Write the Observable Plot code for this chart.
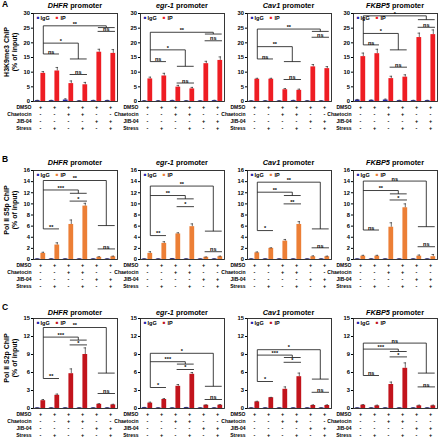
<!DOCTYPE html>
<html><head><meta charset="utf-8">
<script src="https://cdn.jsdelivr.net/npm/d3@7"></script>
<script src="https://cdn.jsdelivr.net/npm/@observablehq/plot@0.6"></script>
<style>
body{margin:0;background:#fff;}
#fig{position:relative;width:439px;height:440px;overflow:hidden;font-family:"Liberation Sans",Arial,sans-serif;font-weight:bold;color:#000;background:#fff;}
.abs{position:absolute;white-space:nowrap;}
</style></head><body><div id="fig"></div>
<script>
// ---------- data ----------
const promoters = ["DHFR", "egr-1", "Cav1", "FKBP5"];
const rowLetters = ["A", "B", "C"];
const yTitles = ["H3K9me3 ChIP", "Pol II S5p ChIP", "Pol II S2p ChIP"];
const yUnit = "(% of input)";
const legendLabels = ["IgG", "IP"];
const conditionNames = ["DMSO", "Chaetocin", "JIB-04", "Stress"];
const dmsoSigns = ["+", "+", "+", "+", "+", "+"];
const chaetocinSigns = ["-", "-", "+", "+", "-", "-"];
const jib04Signs = ["-", "-", "-", "-", "+", "+"];
const stressSigns = ["-", "+", "-", "+", "-", "+"];

const h3k9Ticks = [0, 5, 10, 15, 20, 25, 30];
const s5pTicks = [0, 2, 4, 6, 8, 10, 12, 14, 16];
const s2pTicks = [0, 3, 6, 9, 12, 15];

// H3K9me3 (row A)
const h3k9IP = [[9.6,10.4,6.1,5.7,16.8,16.4],[7.7,8.7,4.9,4.3,12.9,14.0],[7.6,7.6,4.0,3.8,11.8,11.2],[15.3,16.3,7.8,8.3,21.8,22.8]];
const h3k9IPErr = [[0.6,1.2,0.9,0.8,1.0,1.3],[0.6,0.9,0.6,0.5,0.8,1.2],[0.3,0.3,0.4,0.4,0.8,0.7],[1.2,1.5,0.8,0.8,1.5,1.6]];
const h3k9IgG = [[0.3,0.3,0.5,0.2,0.3,0.3],[0.2,0.2,0.3,0.2,0.2,0.3],[0.2,0.2,0.2,0.3,0.2,0.2],[0.5,0.4,0.5,0.3,0.3,0.3]];
const h3k9IgGErr = [[0.1,0.1,0.4,0.1,0.1,0.1],[0.1,0.1,0.1,0.1,0.1,0.1],[0.1,0.1,0.1,0.1,0.1,0.1],[0.2,0.1,0.3,0.1,0.1,0.1]];
// join brackets: [from, groupA, groupB, y, yTbar, label]; pair brackets: [a, b, y, label]
const h3k9Joins = [
  [[1,5,6,25.8,25.2,"**"],[1,3,4,19.9,14.5,"*"]],
  [[1,5,6,23.6,23.0,"**"],[1,3,4,17.6,12.0,"*"]],
  [[1,5,6,24.7,23.9,"**"],[1,3,4,18.7,13.6,"**"]],
  [[1,5,6,29.2,27.9,"*"],[1,3,4,23.2,17.6,"*"]]];
const h3k9Pairs = [
  [[1,2,16.2,"ns"],[5,6,23.9,"ns"],[3,4,9.2,"ns"]],
  [[1,2,13.6,"ns"],[5,6,20.7,"ns"],[3,4,6.3,"ns"]],
  [[1,2,14.5,"ns"],[5,6,21.9,"ns"],[3,4,7.5,"ns"]],
  [[1,2,19.3,"ns"],[5,6,25.3,"ns"],[3,4,11.7,"ns"]]];

// Pol II S5p (row B)
const s5pIP = [[1.1,2.6,6.3,9.6,0.4,0.5],[1.1,2.9,4.6,5.9,0.4,0.5],[1.2,2.0,3.3,6.3,0.5,0.5],[0.6,0.6,5.8,9.3,0.6,0.5]];
const s5pIPErr = [[0.2,0.4,0.8,0.5,0.1,0.1],[0.3,0.3,0.2,0.5,0.05,0.1],[0.15,0.1,0.3,0.5,0.15,0.1],[0.15,0.15,0.8,0.7,0.2,0.4]];
const s5pIgG = [[0.1,0.1,0.1,0.1,0.1,0.1],[0.1,0.1,0.15,0.1,0.1,0.1],[0.1,0.1,0.1,0.1,0.1,0.1],[0.1,0.1,0.1,0.1,0.1,0.1]];
const s5pIgGErr = [[0.03,0.03,0.03,0.03,0.03,0.03],[0.03,0.03,0.03,0.03,0.03,0.03],[0.03,0.03,0.03,0.03,0.03,0.03],[0.03,0.03,0.03,0.03,0.03,0.03]];
const s5pJoins = [
  [[1,5,6,14.2,6.1,"**"],[1,3,4,12.5,11.9,"***"]],
  [[1,5,6,13.2,5.1,"**"],[1,3,4,11.5,10.9,"**"]],
  [[1,5,6,13.9,5.5,"**"],[1,3,4,12.1,11.5,"**"]],
  [[1,5,6,14.1,5.9,"ns"],[1,3,4,12.4,11.8,"**"]]];
const s5pPairs = [
  [[3,4,10.5,"*"],[1,2,5.5,"**"],[5,6,1.9,"ns"]],
  [[3,4,9.5,"*"],[1,2,4.3,"**"],[5,6,1.4,"ns"]],
  [[3,4,10.0,"**"],[1,2,5.2,"*"],[5,6,2.1,"ns"]],
  [[3,4,10.7,"*"],[1,2,5.3,"ns"],[5,6,2.3,"ns"]]];

// Pol II S2p (row C)
const s2pIP = [[1.3,2.2,5.8,9.0,0.7,0.6],[0.9,1.5,3.7,5.7,0.55,0.55],[1.1,1.8,3.2,5.3,0.5,0.5],[0.55,0.45,4.0,6.7,0.45,0.45]];
const s2pIPErr = [[0.2,0.2,0.8,1.1,0.1,0.1],[0.15,0.15,0.3,0.3,0.05,0.1],[0.1,0.05,0.4,0.6,0.1,0.1],[0.1,0.1,0.4,0.9,0.1,0.1]];
const s2pIgG = [[0.1,0.1,0.1,0.1,0.1,0.1],[0.15,0.1,0.1,0.15,0.1,0.1],[0.1,0.1,0.1,0.1,0.1,0.1],[0.1,0.1,0.1,0.1,0.1,0.1]];
const s2pIgGErr = [[0.03,0.03,0.03,0.03,0.03,0.03],[0.03,0.03,0.03,0.03,0.03,0.03],[0.03,0.03,0.03,0.03,0.03,0.03],[0.03,0.03,0.03,0.03,0.03,0.03]];
const s2pJoins = [
  [[1,5,6,13.5,5.9,"**"],[1,3,4,11.9,11.4,"***"]],
  [[1,5,6,9.2,3.7,"*"],[1,3,4,7.8,7.4,"***"]],
  [[1,5,6,9.8,4.9,"*"],[1,3,4,8.9,8.5,"***"]],
  [[1,5,6,10.9,5.9,"ns"],[1,3,4,9.9,9.5,"***"]]];
const s2pPairs = [
  [[3,4,10.6,"*"],[1,2,5.0,"**"],[5,6,2.5,"ns"]],
  [[3,4,6.5,"*"],[1,2,3.5,"*"],[5,6,1.5,"ns"]],
  [[3,4,7.7,"*"],[1,2,4.5,"*"],[5,6,2.7,"ns"]],
  [[3,4,8.6,"*"],[1,2,5.5,"ns"],[5,6,3.6,"ns"]]];

// ---------- styling / layout ----------
const iggColor = "#2424a8";
const ipColors = ["#ee1d23", "#ec7f36", "#c2141c"];
const colLefts = [33, 140, 246.5, 353];
const frameW = 84;
const rowTops = [13, 170, 318];
const rowBottoms = [101, 259, 408];
const rowTitleY = [6, 163, 313];
const mL = 36, mR = 3, mT = 8, mB = 32;
const rowOffsets = [6, 13, 20, 27];
const signRows = [dmsoSigns, chaetocinSigns, jib04Signs, stressSigns];

const rows = [
  {ip: h3k9IP, ipErr: h3k9IPErr, igg: h3k9IgG, iggErr: h3k9IgGErr, ticks: h3k9Ticks, joins: h3k9Joins, pairs: h3k9Pairs},
  {ip: s5pIP, ipErr: s5pIPErr, igg: s5pIgG, iggErr: s5pIgGErr, ticks: s5pTicks, joins: s5pJoins, pairs: s5pPairs},
  {ip: s2pIP, ipErr: s2pIPErr, igg: s2pIgG, iggErr: s2pIgGErr, ticks: s2pTicks, joins: s2pJoins, pairs: s2pPairs}
];

const fig = document.getElementById("fig");
const groups = [1, 2, 3, 4, 5, 6];
const off = 0.2, hw = 0.17;
const ipx = g => g + off;

function panel(r, c) {
  const R = rows[r];
  const ip = R.ip[c], ipErr = R.ipErr[c], igg = R.igg[c], iggErr = R.iggErr[c];
  const fh = rowBottoms[r] - rowTops[r];
  const bars = [];
  groups.forEach((g, i) => {
    bars.push({x1: g - off - hw, x2: g - off + hw, xc: g - off, v: igg[i], e: iggErr[i], s: "IgG"});
    bars.push({x1: g + off - hw, x2: g + off + hw, xc: g + off, v: ip[i], e: ipErr[i], s: "IP"});
  });
  const segs = [], labels = [];
  const joins = R.joins[c], pairs = R.pairs[c];
  let yTop = -Infinity;
  joins.forEach(([f, a, b, y, yT, lab]) => {
    const xm = (ipx(a) + ipx(b)) / 2;
    segs.push({x1: ipx(f), y1: y, x2: xm, y2: y});
    segs.push({x1: xm, y1: y, x2: xm, y2: yT});
    segs.push({x1: ipx(a) - 0.1, y1: yT, x2: ipx(b) + 0.1, y2: yT});
    labels.push({x: (ipx(f) + xm) / 2, y, t: lab});
    yTop = Math.max(yTop, y);
  });
  let yBase = Infinity;
  pairs.forEach(([a, b, y, lab]) => {
    const x1 = a === 1 ? ipx(1) : ipx(a) - 0.12;
    const x2 = ipx(b) + 0.12;
    segs.push({x1, y1: y, x2, y2: y});
    labels.push({x: (x1 + x2) / 2, y, t: lab});
    if (a === 1) yBase = Math.min(yBase, y);
  });
  segs.push({x1: ipx(1), y1: yBase, x2: ipx(1), y2: yTop});

  const marks = [
    Plot.rectY(bars, {x1: "x1", x2: "x2", y: "v", fill: d => d.s === "IgG" ? iggColor : ipColors[r]}),
    Plot.ruleX(bars, {x: "xc", y1: "v", y2: d => d.v + d.e, stroke: "#333", strokeWidth: 0.7}),
    Plot.ruleY(bars, {y: d => d.v + d.e, x1: d => d.xc - 0.09, x2: d => d.xc + 0.09, stroke: "#333", strokeWidth: 0.7}),
    Plot.frame({stroke: "#222", strokeWidth: 0.9}),
    Plot.link(segs, {x1: "x1", y1: "y1", x2: "x2", y2: "y2", stroke: "#111", strokeWidth: 0.8}),
    Plot.text(labels, {x: "x", y: "y", text: "t", lineAnchor: "bottom", dy: -0.3, fontSize: 5.5}),
    // legend
    Plot.text(["\u25A0"], {frameAnchor: "top-left", dx: 4.5, dy: 4.5, text: d => d, fill: iggColor, fontSize: 4.5, textAnchor: "middle", lineAnchor: "middle"}),
    Plot.text([legendLabels[0]], {frameAnchor: "top-left", dx: 7, dy: 4.5, text: d => d, fontSize: 5.5, textAnchor: "start", lineAnchor: "middle"}),
    Plot.text(["\u25A0"], {frameAnchor: "top-left", dx: 23.5, dy: 4.5, text: d => d, fill: ipColors[r], fontSize: 4.5, textAnchor: "middle", lineAnchor: "middle"}),
    Plot.text([legendLabels[1]], {frameAnchor: "top-left", dx: 27, dy: 4.5, text: d => d, fontSize: 5.5, textAnchor: "start", lineAnchor: "middle"})
  ];
  conditionNames.forEach((name, k) => {
    marks.push(Plot.text([name], {frameAnchor: "bottom-left", dx: -2, dy: rowOffsets[k], text: d => d, textAnchor: "end", lineAnchor: "middle", fontSize: 5}));
    marks.push(Plot.text(groups, {x: g => g, frameAnchor: "bottom", dy: rowOffsets[k], text: (g, i) => signRows[k][i], lineAnchor: "middle", fontSize: 5.5}));
  });

  const svg = Plot.plot({
    width: mL + frameW + mR,
    height: mT + fh + mB,
    marginLeft: mL, marginRight: mR, marginTop: mT, marginBottom: mB,
    x: {domain: [0.5, 6.5], axis: null},
    y: {domain: [0, R.ticks[R.ticks.length - 1]], ticks: R.ticks, tickSize: 2, tickPadding: 1.5, label: null},
    style: {fontFamily: "Liberation Sans, Arial, sans-serif", fontSize: "5.8px", fontWeight: "bold", background: "transparent", overflow: "visible", color: "#000"},
    marks
  });
  svg.style.position = "absolute";
  svg.style.left = (colLefts[c] - mL) + "px";
  svg.style.top = (rowTops[r] - mT) + "px";
  svg.style.maxWidth = "none";
  fig.appendChild(svg);
}

for (let r = 0; r < 3; r++) for (let c = 0; c < 4; c++) panel(r, c);

// titles, letters, axis titles
for (let r = 0; r < 3; r++) {
  for (let c = 0; c < 4; c++) {
    const d = document.createElement("div");
    d.className = "abs";
    d.style.left = (colLefts[c] + frameW / 2) + "px";
    d.style.top = rowTitleY[r] + "px";
    d.style.transform = "translate(-50%,-50%)";
    d.style.fontSize = "7.3px";
    d.style.lineHeight = "8px";
    d.innerHTML = `<i>${promoters[c]}</i> promoter`;
    fig.appendChild(d);
  }
  const L = document.createElement("div");
  L.className = "abs";
  L.style.left = "2px";
  L.style.top = (rowTops[r] - 14 + (r === 0 ? 0 : -2)) + "px";
  L.style.fontSize = "8.5px";
  L.textContent = rowLetters[r];
  fig.appendChild(L);

  const Y = document.createElement("div");
  Y.className = "abs";
  Y.style.left = "11px";
  Y.style.top = ((rowTops[r] + rowBottoms[r]) / 2 - 5) + "px";
  Y.style.transform = "translate(-50%,-50%) rotate(-90deg)";
  Y.style.fontSize = "7px";
  Y.style.lineHeight = "7.6px";
  Y.style.textAlign = "center";
  Y.innerHTML = `${yTitles[r]}<br>${yUnit}`;
  fig.appendChild(Y);
}
</script></body></html>
